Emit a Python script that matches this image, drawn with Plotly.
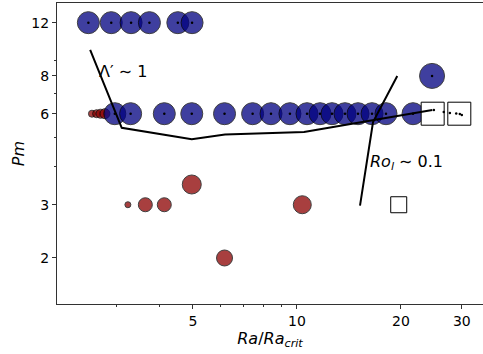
import math
import plotly.graph_objects as go

# ---- data ----
blue_ra = [2.49, 2.90, 3.31, 3.74, 4.52, 4.97,
           2.97, 3.30, 4.13, 4.96, 6.17, 7.44, 8.41, 9.54, 10.69, 11.66,
           12.63, 13.77, 15.02, 16.49, 18.10, 21.67,
           24.6]
blue_pm = [12, 12, 12, 12, 12, 12,
           6, 6, 6, 6, 6, 6, 6, 6, 6, 6,
           6, 6, 6, 6, 6, 6,
           8]
blue_size = [22] * 22 + [25]

red_ra = [2.55, 2.63, 2.70, 2.78, 3.24, 3.64, 4.13, 4.96, 6.17, 10.36]
red_pm = [6, 6, 6, 6, 3, 3, 3, 3.5, 2, 3]
red_size = [7, 8, 9, 10, 6, 14, 14, 19, 16, 18]

sq_ra = [24.7, 29.5, 19.7]
sq_pm = [6, 6, 3]
sq_size = [23, 23, 16]

dot_ra = blue_ra + [24.9, 26.6, 27.7, 28.9, 29.6, 30.0]
dot_pm = blue_pm + [6.17, 6.08, 6.03, 6.01, 5.99, 5.94]

lam_ra = [2.52, 3.11, 4.96, 6.19, 10.48, 24.64]
lam_pm = [9.75, 5.39, 4.94, 5.12, 5.22, 6.17]

ro_ra = [15.22, 16.6, 19.51]
ro_pm = [2.98, 5.63, 7.99]

x_ticks = [5, 10, 20, 30]
x_minor = [3, 4, 6, 7, 8, 9]
y_ticks = [2, 3, 6, 8, 12]
y_minor = [4, 5, 7, 9]

FONT = "DejaVu Sans"

fig = go.Figure()
fig.add_trace(go.Scatter(
    x=red_ra, y=red_pm, mode="markers",
    marker=dict(size=red_size, color="rgb(139,0,0)", opacity=0.75,
                line=dict(color="black", width=1)),
    showlegend=False, hoverinfo="skip"))
fig.add_trace(go.Scatter(
    x=blue_ra, y=blue_pm, mode="markers",
    marker=dict(size=blue_size, color="rgb(0,0,128)", opacity=0.75,
                line=dict(color="black", width=1)),
    showlegend=False, hoverinfo="skip"))
fig.add_trace(go.Scatter(
    x=sq_ra, y=sq_pm, mode="markers",
    marker=dict(size=sq_size, symbol="square", color="white", opacity=1,
                line=dict(color="black", width=1)),
    showlegend=False, hoverinfo="skip"))
fig.add_trace(go.Scatter(
    x=dot_ra, y=dot_pm, mode="markers",
    marker=dict(size=2.5, color="black", opacity=1),
    showlegend=False, hoverinfo="skip"))
fig.add_trace(go.Scatter(
    x=lam_ra, y=lam_pm, mode="lines",
    line=dict(color="black", width=2),
    showlegend=False, hoverinfo="skip"))
fig.add_trace(go.Scatter(
    x=ro_ra, y=ro_pm, mode="lines",
    line=dict(color="black", width=2),
    showlegend=False, hoverinfo="skip"))

fig.add_annotation(x=math.log10(2.64), y=math.log10(8.3), xref="x", yref="y",
                   text="Λ′ ∼ 1", showarrow=False, xanchor="left", yanchor="middle",
                   font=dict(family=FONT, size=16, color="black"))
fig.add_annotation(x=math.log10(16.05), y=math.log10(4.15), xref="x", yref="y",
                   text="<i>Ro</i><sub><i>l</i></sub> ∼ 0.1", showarrow=False,
                   xanchor="left", yanchor="middle",
                   font=dict(family=FONT, size=16, color="black"))

axis_common = dict(
    showgrid=False, zeroline=False, showline=True, automargin=False,
    linecolor="rgb(50,50,50)", linewidth=1,
    ticks="outside", ticklen=4, tickwidth=1, tickcolor="rgb(50,50,50)",
    tickfont=dict(family=FONT, size=14, color="black"),
)

fig.update_xaxes(
    type="log", range=[0.3054, 1.5384], mirror=True,
    tickmode="array", tickvals=x_ticks, ticktext=[str(v) for v in x_ticks],
    minor=dict(tickmode="array", tickvals=x_minor, ticks="outside", ticklen=2,
               tickcolor="rgb(50,50,50)", showgrid=False),
    title=dict(text="<i>Ra</i>/<i>Ra</i><sub><i>crit</i></sub>",
               font=dict(family=FONT, size=16, color="black"), standoff=4),
    **axis_common)
fig.update_yaxes(
    type="log", range=[0.1489, 1.1442], mirror=False,
    tickmode="array", tickvals=y_ticks, ticktext=[str(v) for v in y_ticks],
    minor=dict(tickmode="array", tickvals=y_minor, ticks="outside", ticklen=2,
               tickcolor="rgb(50,50,50)", showgrid=False),
    title=dict(text="<i>Pm</i>", font=dict(family=FONT, size=16, color="black"),
               standoff=2),
    **axis_common)

fig.update_layout(
    width=483, height=354,
    margin=dict(l=57, r=0, t=3, b=50),
    plot_bgcolor="white", paper_bgcolor="white",
    font=dict(family=FONT, color="black"),
)

fig.write_html("out.html", config={"displayModeBar": False},
               post_script="document.body.style.margin='0';")
